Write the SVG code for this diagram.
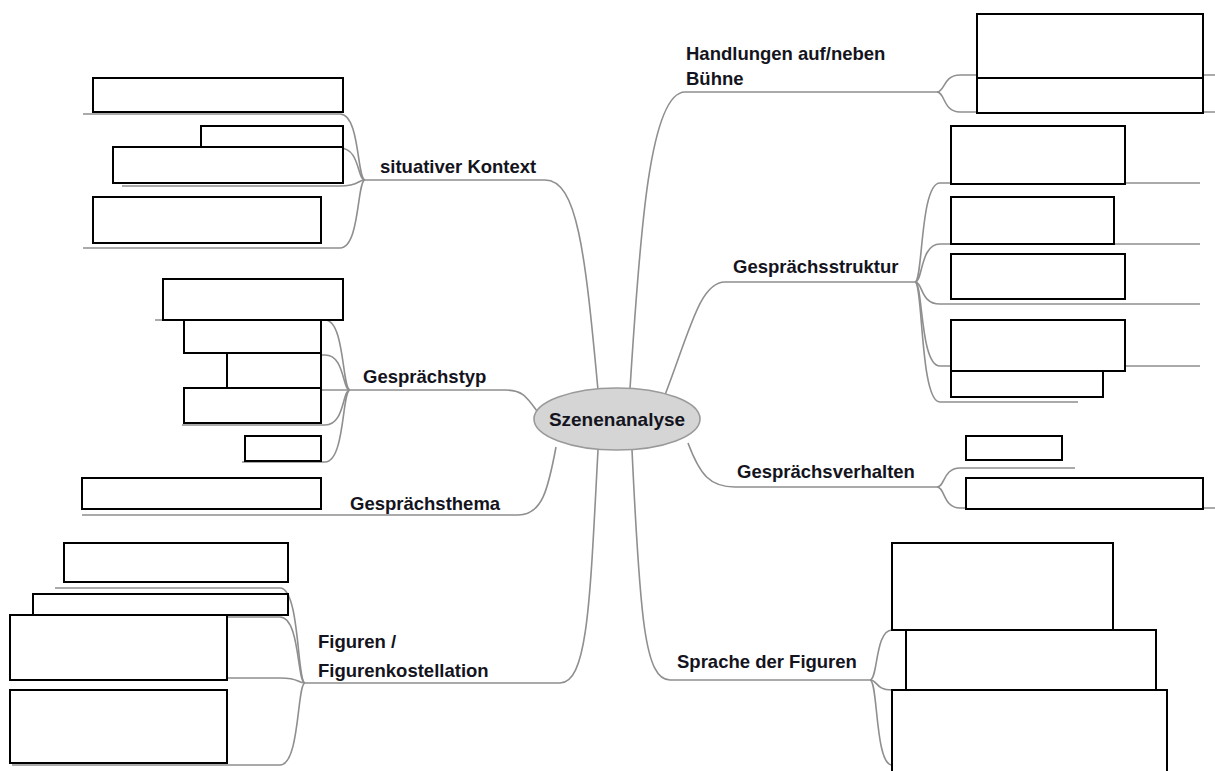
<svg xmlns="http://www.w3.org/2000/svg" width="1215" height="771" viewBox="0 0 1215 771">
<style>
.c{fill:none;stroke:#8f8f8f;stroke-width:1.6}
.b{fill:#fff;stroke:#000;stroke-width:2}
.t{font-family:"Liberation Sans",Arial,sans-serif;font-weight:bold;font-size:18.5px;fill:#141420}
</style>
<rect width="1215" height="771" fill="#fff"/>
<g id="connectors">
<path class="c" d="M630,389 C640,230 650,92 685,92 L937,92"/>
<path class="c" d="M598,390 C585,250 577,180 545,180 L365,180"/>
<path class="c" d="M537,411 C526,396 522,390 505,390 L350,390"/>
<path class="c" d="M556,447 C548,490 542,515 518,515 L82,515"/>
<path class="c" d="M598,450 C590,600 588,683 560,683 L305,683"/>
<path class="c" d="M665,395 C690,330 700,282 725,282 L915,282"/>
<path class="c" d="M688,443 C700,475 710,487 735,487 L937,487"/>
<path class="c" d="M632,450 C640,620 645,680 670,680 L870,680"/>
<path class="c" d="M937,92 C945,92 943,75 960,75 L1215,75"/>
<path class="c" d="M937,92 C945,92 943,112 960,112 L1215,112"/>
<path class="c" d="M365,180 C357,180 360,114 340,114 L83,114"/>
<path class="c" d="M365,180 C357,180 360,148 340,148 L200,148"/>
<path class="c" d="M365,180 C357,180 360,186 340,186 L122,186"/>
<path class="c" d="M365,180 C357,180 360,248 340,248 L83,248"/>
<path class="c" d="M350,390 C342,390 345,320 325,320 L155,320"/>
<path class="c" d="M350,390 C342,390 345,355 325,355 L230,355"/>
<path class="c" d="M350,390 L184,390"/>
<path class="c" d="M350,390 C342,390 345,425 325,425 L182,425"/>
<path class="c" d="M350,390 C342,390 345,462 325,462 L242,462"/>
<path class="c" d="M305,683 C297,683 300,588 280,588 L55,588"/>
<path class="c" d="M305,683 C297,683 300,617 280,617 L30,617"/>
<path class="c" d="M305,683 C297,683 300,678 280,678 L12,678"/>
<path class="c" d="M305,683 C297,683 300,765 280,765 L12,765"/>
<path class="c" d="M915,282 C923,282 920,183 940,183 L1200,183"/>
<path class="c" d="M915,282 C923,282 920,244 940,244 L1200,244"/>
<path class="c" d="M915,282 C923,282 920,304 940,304 L1200,304"/>
<path class="c" d="M915,282 C923,282 920,366 940,366 L1200,366"/>
<path class="c" d="M915,282 C923,282 920,402 940,402 L1078,402"/>
<path class="c" d="M937,487 C945,487 943,468 960,468 L1075,468"/>
<path class="c" d="M937,487 C945,487 943,508 960,508 L1215,508"/>
<path class="c" d="M870,680 C878,680 875,630 892,630 L1153,630"/>
<path class="c" d="M870,680 C878,680 875,690 892,690 L1155,690"/>
<path class="c" d="M870,680 C878,680 875,765 892,765 L1165,765"/>
</g>
<g id="center">
<ellipse cx="617" cy="419" rx="83" ry="31" fill="#d5d5d5" stroke="#9a9a9a" stroke-width="1.6"/>
<text class="t" x="617" y="426" text-anchor="middle" style="font-size:19px">Szenenanalyse</text>
</g>
<g id="situativer-kontext">
<text class="t" x="380" y="173">situativer Kontext</text>
<rect class="b" x="93" y="78" width="250" height="34"/>
<rect class="b" x="201" y="126" width="142" height="21"/>
<rect class="b" x="113" y="147" width="230" height="36"/>
<rect class="b" x="93" y="197" width="228" height="46"/>
</g>
<g id="gespraechstyp">
<text class="t" x="363" y="383">Gesprächstyp</text>
<rect class="b" x="163" y="279" width="180" height="41"/>
<rect class="b" x="184" y="320" width="137" height="33"/>
<rect class="b" x="227" y="353" width="94" height="35"/>
<rect class="b" x="184" y="388" width="137" height="35"/>
<rect class="b" x="245" y="436" width="76" height="25"/>
</g>
<g id="gespraechsthema">
<text class="t" x="350" y="510">Gesprächsthema</text>
<rect class="b" x="82" y="478" width="239" height="31"/>
</g>
<g id="figuren">
<text class="t" x="318" y="648">Figuren /</text>
<text class="t" x="318" y="677">Figurenkostellation</text>
<rect class="b" x="64" y="543" width="224" height="39"/>
<rect class="b" x="33" y="594" width="255" height="21"/>
<rect class="b" x="10" y="615" width="217" height="65"/>
<rect class="b" x="10" y="690" width="217" height="73"/>
</g>
<g id="handlungen">
<text class="t" x="686" y="60">Handlungen auf/neben</text>
<text class="t" x="686" y="85">Bühne</text>
<rect class="b" x="977" y="14" width="226" height="64"/>
<rect class="b" x="977" y="78" width="226" height="35"/>
</g>
<g id="gespraechsstruktur">
<text class="t" x="733" y="273">Gesprächsstruktur</text>
<rect class="b" x="951" y="126" width="174" height="58"/>
<rect class="b" x="951" y="197" width="163" height="47"/>
<rect class="b" x="951" y="254" width="174" height="45"/>
<rect class="b" x="951" y="320" width="174" height="51"/>
<rect class="b" x="951" y="371" width="152" height="26"/>
</g>
<g id="gespraechsverhalten">
<text class="t" x="737" y="478">Gesprächsverhalten</text>
<rect class="b" x="966" y="436" width="96" height="24"/>
<rect class="b" x="966" y="478" width="237" height="31"/>
</g>
<g id="sprache">
<text class="t" x="677" y="668">Sprache der Figuren</text>
<rect class="b" x="892" y="543" width="221" height="87"/>
<rect class="b" x="906" y="630" width="250" height="60"/>
<rect class="b" x="892" y="690" width="275" height="84"/>
</g>
</svg>
